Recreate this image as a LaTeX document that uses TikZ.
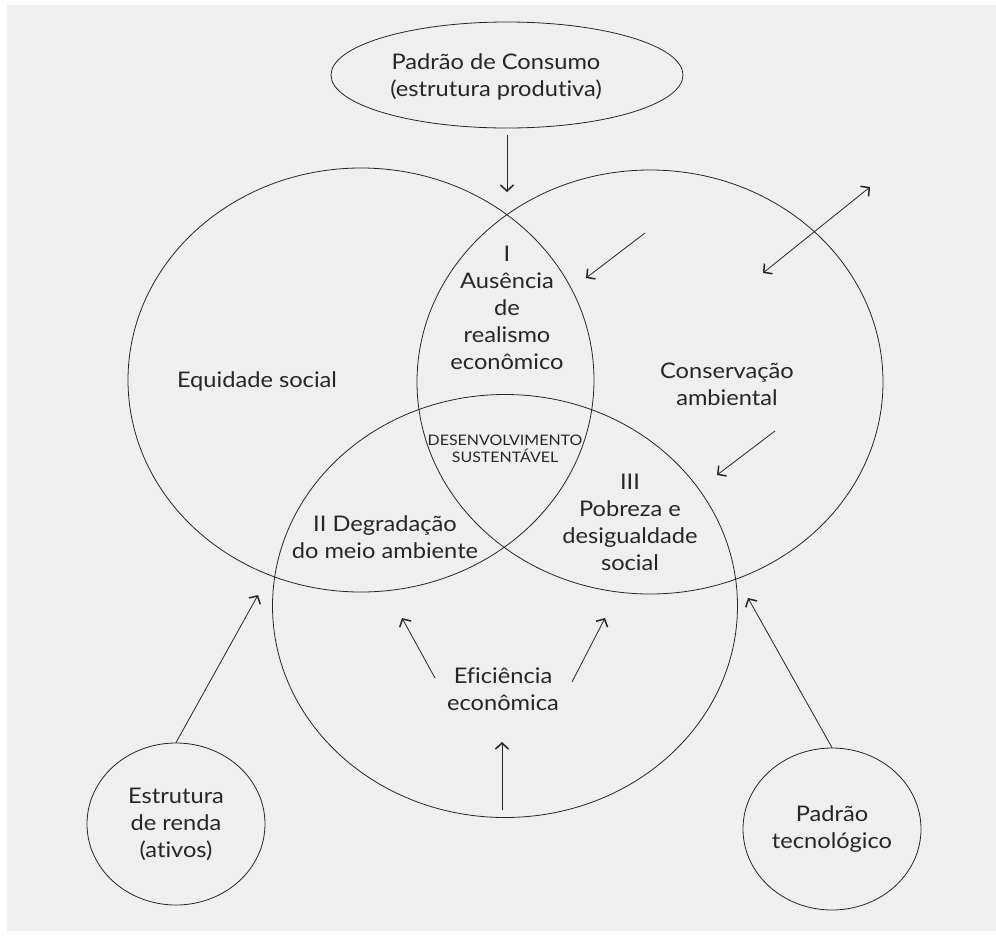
\documentclass[tikz,border=0pt]{standalone}
\usepackage{fontspec}
\setmainfont{Lato}[FakeStretch=1.1,Ligatures=NoCommon]
\usetikzlibrary{shapes.geometric,arrows.meta}
\definecolor{bg}{HTML}{EFEFEF}
\definecolor{ink}{HTML}{262626}
\begin{document}
\begin{tikzpicture}[x=1pt,y=-1pt,
  oval/.style={draw=ink,line width=0.8pt,ellipse,inner sep=0pt},
  lbl/.style={text=ink,align=center,font=\fontsize{21.5}{27}\selectfont,inner sep=0pt},
  small/.style={text=ink,align=center,font=\fontsize{14.5}{17}\selectfont,inner sep=0pt},
  tip/.tip={Straight Barb[length=6pt,width=13pt,line width=1.5pt]},
  arr/.style={draw=ink,line width=0.8pt,-tip},
  darr/.style={draw=ink,line width=0.8pt,tip-tip}]
\useasboundingbox (0,0) rectangle (996,938);
\fill[white] (0,0) rectangle (996,938);
\fill[bg] (7,5) rectangle (996,931);

% main ellipses
\node[oval,minimum width=466pt,minimum height=424pt] (L) at (361,380) {};
\node[oval,minimum width=466pt,minimum height=424pt] (R) at (650,382) {};
\node[oval,minimum width=465pt,minimum height=423pt] (B) at (505,606) {};

% outer nodes
\node[oval,minimum width=352pt,minimum height=106pt] (top) at (507,75) {};
\node[lbl] (toptext) at (496,77) {Padrão de Consumo\\(estrutura produtiva)};
\node[oval,minimum width=178pt,minimum height=162pt,lbl] (estr) at (176,824) {Estrutura\\de renda\\(ativos)};
\node[oval,minimum width=178pt,minimum height=162pt,lbl] (tec) at (832,829) {Padrão\\tecnológico};

% labels
\node[lbl] (eq) at (257,381) {Equidade social};
\node[lbl] (one) at (507,308) {I\\Ausência\\de\\realismo\\econômico};
\node[lbl] (cons) at (727,384) {Conservação\\ambiental};
\node[small] (ds) at (505,449) {DESENVOLVIMENTO\\SUSTENTÁVEL};
\node[lbl] (three) at (630,522) {III\\Pobreza e\\desigualdade\\social};
\node[lbl] (two) at (385,537) {II Degradação\\do meio ambiente};
\node[lbl] (ef) at (503,689) {Eficiência\\econômica};

% arrow ends
\coordinate (t1) at (507,192);
\coordinate (a2s) at (645,233);
\coordinate (a2e) at (586,278);
\coordinate (d1) at (870,187);
\coordinate (d2) at (763,273);
\coordinate (a4s) at (775,431);
\coordinate (a4e) at (717,475);
\coordinate (e1s) at (435,678);
\coordinate (e1e) at (402,618);
\coordinate (e2s) at (572,682);
\coordinate (e2e) at (605,618);
\coordinate (e3s) at (502,810);
\coordinate (e3e) at (502,742);
\coordinate (es) at (258,595);
\coordinate (ts) at (748,598);

\draw[arr] ([yshift=-7pt]top.south) -- (t1);
\draw[arr] (a2s) -- (a2e);
\draw[darr] (d2) -- (d1);
\draw[arr] (a4s) -- (a4e);
\draw[arr] (e1s) -- (e1e);
\draw[arr] (e2s) -- (e2e);
\draw[arr] (e3s) -- (e3e);
\draw[arr] (estr.north) -- (es);
\draw[arr] (tec.north) -- (ts);
\end{tikzpicture}
\end{document}
